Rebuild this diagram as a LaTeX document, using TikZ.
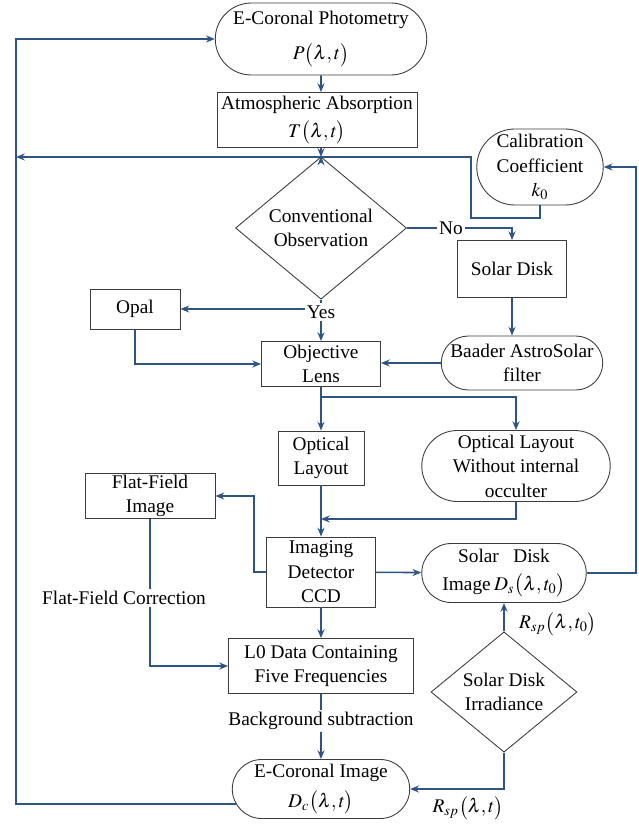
\documentclass[tikz,border=0pt]{standalone}
\usepackage{mathptmx}
\usepackage[no-math]{fontspec}
\setmainfont{Liberation Serif}
\usetikzlibrary{shapes.misc,shapes.geometric,arrows.meta}
\definecolor{flowblue}{RGB}{46,84,132}
\definecolor{boxgray}{RGB}{60,60,60}

\begin{document}
\begin{tikzpicture}[x=0.02cm, y=-0.02cm,
	font=\fontsize{11}{14}\selectfont,
	box/.style={draw=boxgray, line width=0.5pt, align=center, inner sep=1pt},
	term/.style={box, rounded rectangle},
	decide/.style={box, diamond, inner sep=0pt},
	flow/.style={draw=flowblue, line width=0.9pt},
	arr/.style={flow, -{Stealth[length=5pt, width=4pt]}},
	lbl/.style={fill=white, inner sep=1pt}]
		\useasboundingbox (0,0) rectangle (639,826);

		\node[term, minimum width=4.3cm, minimum height=1.44cm] at (321,39) (photo) {E-Coronal Photometry\\[6pt]$P\bigl(\lambda,t\bigr)$};
		\node[box, minimum width=4.0cm, minimum height=1.1cm] at (317,120) (atm) {Atmospheric Absorption\\[2pt]$T\bigl(\lambda,t\bigr)$};
		\node[term, minimum width=2.6cm, minimum height=1.52cm] at (540,167) (calib) {Calibration\\Coefficient\\$k_0$};
		\node[decide, minimum width=3.42cm, minimum height=2.36cm] at (321,228) (conv) {Conventional\\Observation};
		\node[lbl] at (451,228) (no) {No};
		\node[box, minimum width=2.18cm, minimum height=1.14cm] at (512,269) (solar) {Solar Disk};
		\node[term, minimum width=3.3cm, minimum height=1.08cm] at (522,363) (baader) {Baader AstroSolar\\filter};
		\node[box, minimum width=1.8cm, minimum height=0.8cm] at (135,309) (opal) {Opal};
		\node[lbl] at (321,312) (yes) {Yes};
		\node[box, minimum width=2.38cm, minimum height=0.9cm] at (321,364) (objective) {Objective\\Lens};
		\node[box, minimum width=1.72cm, minimum height=1.08cm] at (321,458) (optical) {Optical\\Layout};
		\node[term, minimum width=3.84cm, minimum height=1.42cm] at (516,466) (olw) {Optical Layout\\Without internal\\occulter};
		\node[box, minimum width=2.6cm, minimum height=0.9cm] at (150,496) (ffi) {Flat-Field\\Image};
		\node[box, minimum width=2.18cm, minimum height=1.4cm] at (321,572) (ccd) {Imaging\\Detector\\CCD};
		\node[term, minimum width=3.36cm, minimum height=1.18cm] at (504,573) (sdi) {Solar\ \ \ Disk\\[2pt]Image\,$D_s\bigl(\lambda,t_0\bigr)$};
		\node[lbl] at (124,598) (ffc) {Flat-Field Correction};
		\node[box, minimum width=3.7cm, minimum height=1.1cm] at (321,666) (l0) {L0 Data Containing\\Five Frequencies};
		\node[lbl] at (321,721) (bg) {Background subtraction};
		\node[decide, minimum width=2.92cm, minimum height=2.12cm] at (504,692) (sdirr) {Solar Disk\\Irradiance};
		\node[term, minimum width=3.62cm, minimum height=1.18cm] at (321,789) (eci) {E-Coronal Image\\[3pt]$D_c\bigl(\lambda,t\bigr)$};
		\node at (558,624) (rsp0) {$R_{sp}\bigl(\lambda,t_0\bigr)$};
		\node at (468,808) (rsp) {$R_{sp}\bigl(\lambda,t\bigr)$};

		% rails and bends
		\coordinate (railL) at (16,157);
		\coordinate (railR) at (636,400);
		\coordinate (loop) at (471,218);
		\coordinate (split) at (321,397);
		\coordinate (merge) at (321,519);
		\coordinate (ffa) at (254,572);

		\draw[arr] (photo) -- (photo |- atm.north);
		\draw[arr] (photo |- atm.south) -- (photo |- railL);
		\draw[arr] (photo |- railL) -- (conv.north);
		\draw[arr] (calib.south) |- (loop) |- (railL);
		\draw[arr] (eci.190) -| (railL) |- (photo.west);

		\draw[flow] (conv.east) -- (no);
		\draw[arr] (no.east) -| (solar.north);
		\draw[arr] (solar.south) -- (solar.south |- baader.north);
		\draw[arr] (baader.west) -- (baader.west -| objective.east);

		\draw[flow] (conv.south) -- (yes);
		\draw[arr] (yes.west |- opal) -- (opal.east);
		\draw[arr] (yes) -- (objective);
		\draw[arr] (opal.south) |- (objective.west);

		\draw[arr] (objective) -- (optical);
		\draw[arr] (split) -| (olw.north);
		\draw[arr] (olw.south) |- (merge);
		\draw[arr] (optical) -- (ccd);

		\draw[arr] (ccd.west) -- (ffa) |- (ffi.east);
		\draw[arr] (ccd) -- (sdi);
		\draw[arr] (sdi.east) -| (railR) |- (calib.east);

		\draw[flow] (ffi.south) -- (ffi.south |- ffc.north);
		\draw[arr] (ffi.south |- ffc.south) |- (l0.west);
		\draw[arr] (ccd) -- (l0);
		\draw[flow] (l0) -- (bg);
		\draw[arr] (bg) -- (eci);

		\draw[arr] (sdirr.north) -- (sdi.south);
		\draw[arr] (sdirr.south) |- (eci.east);
	\end{tikzpicture}
\end{document}
